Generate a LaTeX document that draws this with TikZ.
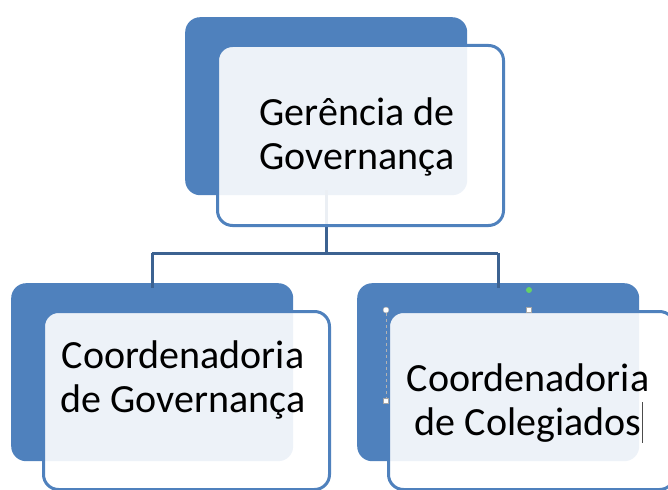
\documentclass[tikz,border=0pt]{standalone}
\usepackage{fontspec}
\setmainfont{Carlito}
\definecolor{boxblue}{RGB}{79,129,189}
\definecolor{linkblue}{RGB}{60,98,145}

\begin{document}
\begin{tikzpicture}[x=1pt,y=-1pt,
  back/.style={fill=boxblue,rounded corners=15pt,inner sep=0pt,anchor=north west,
    minimum width=282pt,minimum height=178pt},
  front/.style={draw=boxblue,line width=3pt,fill=white,fill opacity=0.9,
    rounded corners=15pt,inner sep=0pt,anchor=north west,
    minimum width=286pt,minimum height=180pt},
  label/.style={align=center,text=black,font=\fontsize{40}{44}\selectfont},
  link/.style={draw=linkblue,line width=3pt},
  handle/.style={circle,draw=gray!70,fill=white,inner sep=0pt,minimum size=6pt}]
\useasboundingbox (0,0) rectangle (668,489);

% dark boxes behind
\node[back] (topback) at (185,17) {};
\node[back] (leftback) at (11,283) {};
\node[back] (rightback) at (357,283) {};

% connectors
\coordinate (fork) at (topback.south |- 0,253);
\draw[link] ([yshift=5pt]topback.south) -- (fork);
\draw[link] (leftback.north |- fork) -- (rightback.north |- fork);
\draw[link] (leftback.north |- fork) -- ([yshift=-5pt]leftback.north);
\draw[link] (rightback.north |- fork) -- ([yshift=-5pt]rightback.north);

% front boxes
\node[front] (topfront) at (216,44) {};
\node[front,minimum height=178pt] (leftfront) at (42,310) {};
\node[front,minimum height=178pt] (rightfront) at (387,310) {};

\node[label] (toptext) at (357,137) {Gerência de\\Governança};
\node[label] (lefttext) at (183,380) {Coordenadoria\\de Governança};
\node[label] (righttext) at (528,403) {Coordenadoria\\de Colegiados};

% selection handles and cursor
\node[handle] (hnw) at (386,310) {};
\node[handle,rectangle,minimum size=5pt] (hn) at (529,310) {};
\node[handle,rectangle,minimum size=5pt] (hw) at (386,401) {};
\node[handle,fill=green!70!black!60,draw=none] (hrot) at (529,290) {};
\draw[gray!60,thin,dashed] (hnw) -- (hw);
\draw[black!70,line width=0.8pt] (642,402) -- (642,443);

\end{tikzpicture}
\end{document}
